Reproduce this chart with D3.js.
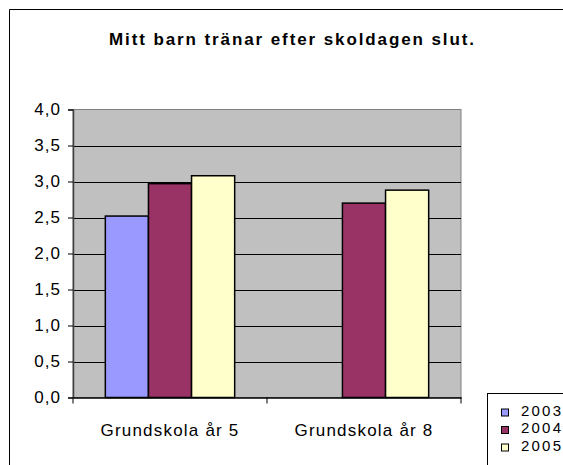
<!DOCTYPE html>
<html><head><meta charset="utf-8">
<script src="https://cdn.jsdelivr.net/npm/d3@7"></script>
<style>body{margin:0;background:#fff}svg{display:block}text{font-family:"Liberation Sans",Arial,sans-serif}</style>
</head><body>
<script>
const title = "Mitt barn tränar efter skoldagen slut.";
const categories = ["Grundskola år 5", "Grundskola år 8"];
const seriesNames = ["2003", "2004", "2005"];
const values2003 = [2.52, null];
const values2004 = [2.97, 2.70];
const values2005 = [3.08, 2.88];
const colors = ["#9999FF", "#993366", "#FFFFCC"];
const yTicks = [0, 0.5, 1, 1.5, 2, 2.5, 3, 3.5, 4];

const W = 563, H = 465;
const plot = {left: 73, right: 461, top: 109.5, bottom: 397.5};
const svg = d3.select("body").append("svg").attr("width", W).attr("height", H);

// outer chart border
svg.append("path").attr("d", `M9.5,${H+2}V9.5H${W+2}`).attr("fill","none").attr("stroke","#000").attr("stroke-width",1);

svg.append("text").attr("x", 292.5).attr("y", 44.5).attr("text-anchor","middle")
  .attr("font-size", 17).attr("font-weight","bold").attr("letter-spacing", 1.9).text(title);

const x0 = d3.scaleBand().domain(categories).range([plot.left, plot.right]).paddingInner(0).paddingOuter(0);
const x1 = d3.scaleBand().domain(seriesNames).range([0, x0.bandwidth()]).paddingInner(0).paddingOuter(0.75);
const y = d3.scaleLinear().domain([0, 4]).range([plot.bottom, plot.top]);

svg.append("rect").attr("x", plot.left).attr("y", plot.top).attr("width", plot.right-plot.left).attr("height", plot.bottom-plot.top)
  .attr("fill","#C0C0C0").attr("stroke","#808080").attr("stroke-width",1);

// gridlines
svg.append("g").selectAll("line").data(yTicks.filter(t=>t>0 && t<4)).join("line")
  .attr("x1", plot.left).attr("x2", plot.right).attr("y1", d=>Math.round(y(d))+0.5).attr("y2", d=>Math.round(y(d))+0.5)
  .attr("stroke","#000").attr("stroke-width",1);

const seriesVals = [values2003, values2004, values2005];
const g = svg.append("g");
categories.forEach((c, ci) => {
  seriesNames.forEach((s, si) => {
    const v = seriesVals[si][ci];
    if (v == null) return;
    g.append("rect").attr("x", x0(c) + x1(s)).attr("y", y(v)).attr("width", x1.bandwidth()).attr("height", plot.bottom - y(v))
      .attr("fill", colors[si]).attr("stroke","#000").attr("stroke-width",1.5);
  });
});

// y axis
const yAxis = d3.axisLeft(y).tickValues(yTicks).tickSize(5).tickPadding(7)
  .tickFormat(d => d3.format(".1f")(d).replace(".", ","));
const ya = svg.append("g").attr("transform", `translate(${plot.left},0)`).call(yAxis);
ya.select(".domain").attr("stroke","#404040").attr("stroke-width",1.5);
ya.selectAll(".tick line").attr("stroke","#000");
ya.selectAll("text").attr("font-size",17).attr("fill","#000").attr("letter-spacing",1).attr("font-family","Liberation Sans, Arial, sans-serif");

// x axis
const xa = svg.append("g").attr("transform", `translate(0,${plot.bottom})`).call(d3.axisBottom(x0).tickSize(0).tickPadding(26));
xa.select(".domain").attr("stroke","#000").attr("stroke-width",1.5);
xa.selectAll("text").attr("font-size",17).attr("fill","#000").attr("letter-spacing",1.2).attr("font-family","Liberation Sans, Arial, sans-serif");
const bounds = [categories.map(c=>x0(c)), plot.right].flat();
svg.append("g").selectAll("line").data(bounds).join("line")
  .attr("x1", d=>d).attr("x2", d=>d).attr("y1", plot.bottom).attr("y2", plot.bottom+6).attr("stroke","#000");

// legend
const lg = svg.append("g");
lg.append("rect").attr("x", 487.5).attr("y", 393.5).attr("width", 100).attr("height", 100).attr("fill","#fff").attr("stroke","#000");
seriesNames.forEach((s, i) => {
  const yy = 415.5 + i*17.5;
  lg.append("rect").attr("x", 501.5).attr("y", yy-6.5).attr("width", 7).attr("height", 7).attr("fill", colors[i]).attr("stroke","#000");
  lg.append("text").attr("x", 521).attr("y", yy).attr("font-size",15).attr("letter-spacing",2.2).text(s);
});
</script>
</body></html>
